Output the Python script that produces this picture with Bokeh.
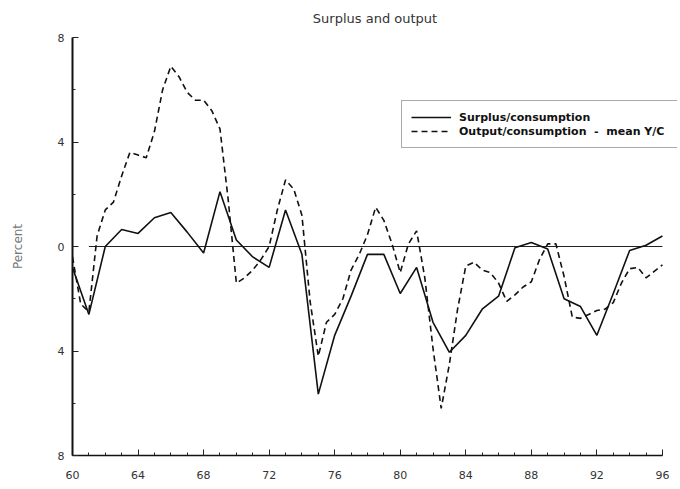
from bokeh.plotting import figure
from bokeh.models import Legend, LegendItem, FixedTicker, Range1d
from bokeh.embed import file_html
from bokeh.resources import INLINE

# Surplus as a share of consumption, annual (19xx)
years = list(range(60, 97))
surplus = [-0.8, -2.6, 0.0, 0.65, 0.5, 1.1, 1.3, 0.55, -0.25, 2.1,
           0.25, -0.4, -0.8, 1.4, -0.3, -5.65, -3.4, -1.9, -0.3, -0.3,
           -1.8, -0.8, -2.9, -4.05, -3.4, -2.4, -1.9, -0.05, 0.15, -0.1,
           -2.0, -2.3, -3.4, -1.8, -0.15, 0.05, 0.4]

# Output/consumption minus its mean, half-yearly
gap_years = [60 + 0.5 * i for i in range(73)]
output_gap = [-0.4, -2.2, -2.5, 0.4, 1.4, 1.7, 2.7, 3.6, 3.5, 3.4,
              4.4, 6.0, 6.9, 6.5, 5.9, 5.6, 5.6, 5.2, 4.5, 1.8,
              -1.4, -1.2, -0.9, -0.5, 0.0, 1.4, 2.55, 2.2, 1.2, -2.1,
              -4.2, -2.9, -2.6, -2.0, -0.9, -0.3, 0.45, 1.5, 1.0, 0.1,
              -1.0, 0.1, 0.6, -1.2, -3.9, -6.2, -4.5, -2.4, -0.75, -0.6,
              -0.9, -1.0, -1.4, -2.1, -1.85, -1.55, -1.35, -0.5, 0.1, 0.1,
              -1.15, -2.7, -2.75, -2.6, -2.45, -2.4, -2.15, -1.4, -0.85, -0.8,
              -1.2, -0.95, -0.7]

# Reference line at zero
zero_years = [61, 96]
zero_vals = [0, 0]

x_ticks = [60, 64, 68, 72, 76, 80, 84, 88, 92, 96]
x_tick_labels = ["60", "64", "68", "72", "76", "80", "84", "88", "92", "96"]
y_ticks = [-8, -4, 0, 4, 8]
y_tick_labels = ["8", "4", "0", "4", "8"]

# The frame runs a little past 1996 so the legend box has room on the right;
# the x axis line itself stops at 1996.
p = figure(width=680, height=489, output_backend="svg", toolbar_location=None,
           x_range=Range1d(60, 96.92), y_range=Range1d(-8, 8),
           min_border_left=72, min_border_right=3,
           min_border_top=37, min_border_bottom=34,
           title="Surplus and output")
p.outline_line_color = None
p.grid.visible = False
p.background_fill_color = "white"

p.title.align = "center"
p.title.vertical_align = "top"
p.title.text_font = "DejaVu Sans"
p.title.text_font_size = "13px"
p.title.text_font_style = "normal"
p.title.text_color = "#333333"
p.title.standoff = 19

xa = p.xaxis[0]
xa.ticker = FixedTicker(ticks=x_ticks, minor_ticks=years)
xa.major_label_overrides = {t: s for t, s in zip(x_ticks, x_tick_labels)}
xa.bounds = (60, 96)
ya = p.yaxis[0]
ya.ticker = FixedTicker(ticks=y_ticks, minor_ticks=[-6, -2, 2, 6])
ya.major_label_overrides = {t: s for t, s in zip(y_ticks, y_tick_labels)}
ya.axis_label = "Percent"
ya.axis_label_text_font = "DejaVu Sans"
ya.axis_label_text_font_size = "12px"
ya.axis_label_text_font_style = "normal"
ya.axis_label_text_color = "#777777"
ya.axis_label_standoff = 30

for ax in (xa, ya):
    ax.major_tick_in = 6
    ax.major_tick_out = 0
    ax.minor_tick_in = 3
    ax.minor_tick_out = 0
    ax.major_tick_line_color = "#222222"
    ax.minor_tick_line_color = "#222222"
    ax.axis_line_color = "#111111"
    ax.major_label_text_font = "DejaVu Sans"
    ax.major_label_text_font_size = "11px"
    ax.major_label_text_color = "#333333"
ya.axis_line_width = 2
xa.axis_line_width = 1.5
ya.major_label_standoff = 8
xa.major_label_standoff = 15

p.line(zero_years, zero_vals, line_color="#222222", line_width=1)
r_surplus = p.line(years, surplus, line_color="#111111", line_width=1.6)
r_gap = p.line(gap_years, output_gap, line_color="#111111", line_width=1.6,
               line_dash="6 4")

legend = Legend(
    items=[LegendItem(label="Surplus/consumption", renderers=[r_surplus]),
           LegendItem(label="Output/consumption  -  mean Y/C", renderers=[r_gap])],
    location=(329, 307), padding=9, spacing=0, margin=0,
    glyph_width=40, glyph_height=14, label_standoff=8,
    label_width=210, label_height=14,
    label_text_font="DejaVu Sans", label_text_font_size="11px",
    label_text_font_style="bold", label_text_color="#111111",
    border_line_color="#555555", border_line_width=1,
    background_fill_color="white", background_fill_alpha=1.0,
)
p.add_layout(legend)

open("out.html", "w").write(file_html(p, INLINE))
